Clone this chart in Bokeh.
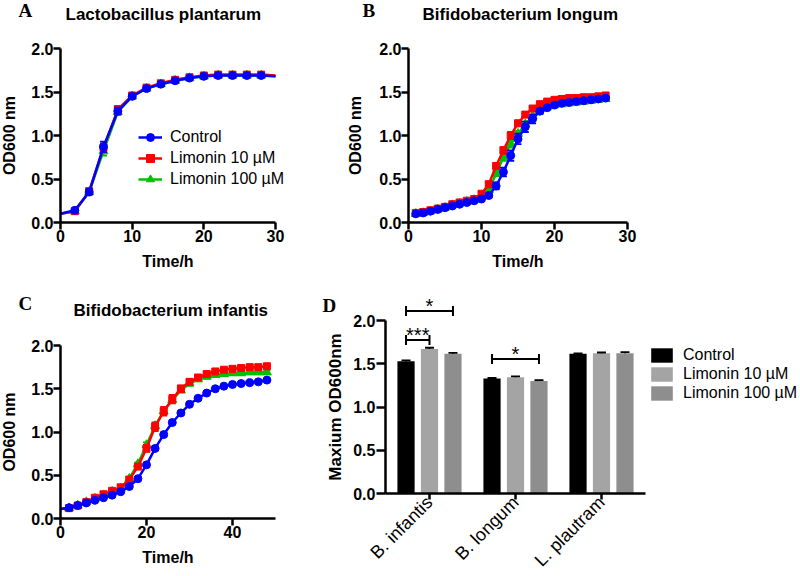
import math
from bokeh.plotting import figure
from bokeh.layouts import column, row
from bokeh.models import (Label, Legend, LegendItem, FixedTicker, Range1d,
                          PrintfTickFormatter)
from bokeh.embed import file_html
from bokeh.resources import INLINE
from bokeh.core.properties import value

# ---------------- data ----------------
# Panel A: Lactobacillus plantarum
time_a = [0, 2, 4, 6, 8, 10, 12, 14, 16, 18, 20, 22, 24, 26, 28, 30]
a_ctrl = [0.10, 0.14, 0.35, 0.87, 1.28, 1.45, 1.54, 1.59, 1.63, 1.66, 1.68, 1.69, 1.69, 1.69, 1.69, 1.68]
a_l10 = [0.10, 0.13, 0.36, 0.86, 1.30, 1.46, 1.55, 1.60, 1.64, 1.67, 1.69, 1.70, 1.70, 1.70, 1.70, 1.69]
a_l100 = [0.10, 0.13, 0.35, 0.82, 1.27, 1.45, 1.54, 1.59, 1.63, 1.66, 1.68, 1.69, 1.69, 1.69, 1.69, 1.68]
a_err_ctrl = [0, 0.01, 0.03, 0.06, 0.04, 0.02, 0.02, 0.01, 0.01, 0.01, 0.01, 0.01, 0.01, 0.01, 0.01, 0]
a_err_l10 = [0, 0.02, 0.03, 0.05, 0.04, 0.02, 0.02, 0.01, 0.01, 0.01, 0.01, 0.01, 0.01, 0.01, 0.01, 0]
a_err_l100 = [0, 0.01, 0.02, 0.05, 0.03, 0.02, 0.01, 0.01, 0.01, 0.01, 0.01, 0.01, 0.01, 0.01, 0.01, 0]

# Panel B: Bifidobacterium longum
time_b = list(range(1, 28))
b_ctrl = [0.10, 0.11, 0.13, 0.15, 0.17, 0.19, 0.21, 0.23, 0.25, 0.27, 0.31, 0.42, 0.58, 0.77,
          0.96, 1.10, 1.19, 1.28, 1.32, 1.35, 1.37, 1.38, 1.39, 1.40, 1.41, 1.42, 1.43]
b_l10 = [0.11, 0.12, 0.14, 0.16, 0.18, 0.21, 0.23, 0.25, 0.27, 0.33, 0.44, 0.65, 0.83, 1.00,
         1.14, 1.24, 1.31, 1.36, 1.39, 1.41, 1.42, 1.43, 1.43, 1.44, 1.44, 1.45, 1.46]
b_l100 = [0.10, 0.11, 0.13, 0.15, 0.17, 0.20, 0.22, 0.24, 0.26, 0.30, 0.37, 0.56, 0.75, 0.90,
          1.02, 1.13, 1.22, 1.30, 1.33, 1.35, 1.36, 1.37, 1.38, 1.39, 1.40, 1.41, 1.42]
b_err_ctrl = [0.01, 0.01, 0.01, 0.01, 0.01, 0.01, 0.01, 0.01, 0.01, 0.01, 0.02, 0.04, 0.05, 0.06,
              0.06, 0.06, 0.05, 0.03, 0.02, 0.02, 0.01, 0.01, 0.01, 0.01, 0.01, 0.01, 0.02]
b_err_l10 = [0.01, 0.01, 0.01, 0.01, 0.01, 0.01, 0.01, 0.01, 0.01, 0.02, 0.03, 0.03, 0.04, 0.04,
             0.03, 0.02, 0.02, 0.02, 0.01, 0.01, 0.01, 0.01, 0.01, 0.01, 0.01, 0.01, 0.01]
b_err_l100 = [0.01, 0.01, 0.01, 0.01, 0.01, 0.01, 0.01, 0.01, 0.01, 0.01, 0.02, 0.03, 0.04, 0.04,
              0.03, 0.03, 0.02, 0.02, 0.01, 0.01, 0.01, 0.01, 0.01, 0.01, 0.01, 0.01, 0.01]

# Panel C: Bifidobacterium infantis
time_c = [0, 2, 4, 6, 8, 10, 12, 14, 16, 18, 20, 22, 24, 26, 28, 30, 32, 34, 36, 38, 40, 42, 44, 46, 48]
c_ctrl = [0.11, 0.125, 0.15, 0.18, 0.21, 0.24, 0.27, 0.31, 0.37, 0.46, 0.62, 0.81, 0.97,
          1.11, 1.22, 1.32, 1.39, 1.45, 1.50, 1.53, 1.55, 1.56, 1.57, 1.58, 1.60]
c_l10 = [0.11, 0.12, 0.15, 0.19, 0.24, 0.28, 0.32, 0.36, 0.45, 0.60, 0.81, 1.06, 1.24,
         1.38, 1.50, 1.58, 1.63, 1.67, 1.70, 1.72, 1.73, 1.74, 1.75, 1.75, 1.76]
c_l100 = [0.11, 0.12, 0.15, 0.19, 0.23, 0.27, 0.31, 0.35, 0.46, 0.63, 0.85, 1.07, 1.24,
          1.37, 1.48, 1.56, 1.61, 1.64, 1.66, 1.67, 1.68, 1.68, 1.69, 1.69, 1.69]
c_err_ctrl = [0, 0.01, 0.01, 0.01, 0.01, 0.01, 0.01, 0.01, 0.01, 0.02, 0.02, 0.02, 0.02,
              0.02, 0.02, 0.02, 0.01, 0.01, 0.01, 0.01, 0.01, 0.01, 0.01, 0.01, 0.01]
c_err_l10 = [0, 0.01, 0.01, 0.01, 0.01, 0.02, 0.02, 0.02, 0.03, 0.03, 0.04, 0.05, 0.05,
             0.05, 0.04, 0.03, 0.02, 0.02, 0.02, 0.02, 0.02, 0.02, 0.02, 0.02, 0.02]
c_err_l100 = [0, 0.01, 0.01, 0.01, 0.01, 0.01, 0.01, 0.01, 0.02, 0.02, 0.03, 0.03, 0.03,
              0.03, 0.02, 0.02, 0.02, 0.02, 0.02, 0.02, 0.02, 0.02, 0.02, 0.02, 0.02]

# Panel D: maximum OD600
strains = ["B. infantis", "B. longum", "L. plautram"]
treatments = ["Control", "Limonin 10 µM", "Limonin 100 µM"]
bar_ctrl = [1.53, 1.33, 1.615]
bar_l10 = [1.67, 1.345, 1.62]
bar_l100 = [1.615, 1.30, 1.62]
bar_err_ctrl = [0.01, 0.005, 0.005]
bar_err_l10 = [0.015, 0.01, 0.01]
bar_err_l100 = [0.01, 0.01, 0.015]
sig_group = [0, 0, 1]
sig_from = [0, 0, 0]
sig_to = [2, 1, 2]
sig_level = [2.11, 1.775, 1.555]
sig_text = ["*", "***", "*"]

# ---------------- style ----------------
FONT = "Liberation Sans"
SERIF = "Liberation Serif"
BLUE, RED, GREEN = "#0000ff", "#ff0000", "#00c000"
BAR_COLORS = ["#000000", "#a4a4a4", "#8e8e8e"]
ROW_H = 288


def make_fig(w, x_anchor, y_anchor):
    """Figure whose frame fills it; x_anchor/y_anchor = ((value, pixel), (value, pixel)) in figure pixels
    (y pixels measured from the figure top)."""
    (xv0, xp0), (xv1, xp1) = x_anchor
    (yv0, yp0), (yv1, yp1) = y_anchor
    sx = (xp1 - xp0) / (xv1 - xv0)
    sy = (yp0 - yp1) / (yv1 - yv0)
    xr = (xv0 - xp0 / sx, xv0 + (w - xp0) / sx)
    yr = (yv0 - (ROW_H - yp0) / sy, yv0 + yp0 / sy)
    p = figure(width=w, height=ROW_H, x_range=Range1d(*xr), y_range=Range1d(*yr),
               output_backend="svg", toolbar_location=None, title=None,
               min_border_left=0, min_border_right=0, min_border_top=0, min_border_bottom=0)
    p.xgrid.visible = False
    p.ygrid.visible = False
    p.outline_line_color = None
    p.background_fill_color = "white"
    p.border_fill_color = "white"
    for ax in (p.xaxis, p.yaxis):
        ax.axis_line_width = 2.5
        ax.axis_line_color = "black"
        ax.major_tick_line_width = 2.5
        ax.major_tick_line_color = "black"
        ax.major_tick_out = 7
        ax.major_tick_in = 0
        ax.minor_tick_line_color = None
        ax.major_label_text_font = FONT
        ax.major_label_text_font_style = "bold"
        ax.major_label_text_font_size = "16px"
        ax.major_label_text_color = "black"
        ax.major_label_standoff = 0
        ax.axis_label_text_font = FONT
        ax.axis_label_text_font_style = "bold"
        ax.axis_label_text_font_size = "16px"
        ax.axis_label_text_color = "black"
    return p


def add_text(p, text, x, y, font, size):
    # x, y in figure pixels from the top-left corner
    p.add_layout(Label(x=x, y=ROW_H - y, x_units="screen", y_units="screen", text=text,
                       text_font=font, text_font_size=size, text_font_style="bold",
                       text_align="left", text_baseline="middle", text_color="black"))


def growth_panel(p, t, series, xticks, xbound, ylab_standoff):
    p.xaxis.ticker = FixedTicker(ticks=xticks)
    p.xaxis.bounds = (0, xbound)
    p.xaxis.fixed_location = 0
    p.yaxis.ticker = FixedTicker(ticks=[0, 0.5, 1.0, 1.5, 2.0])
    p.yaxis.bounds = (0, 2.0)
    p.yaxis.fixed_location = 0
    p.yaxis.formatter = PrintfTickFormatter(format="%.1f")
    p.xaxis.axis_label = "Time/h"
    p.yaxis.axis_label = "OD600 nm"
    p.xaxis.axis_label_standoff = 8
    p.yaxis.axis_label_standoff = ylab_standoff
    items = {}
    for name, vals, errs, color, marker, size, trim in series:
        ts = t[trim[0]:len(t) - trim[1]]
        vs = vals[trim[0]:len(vals) - trim[1]]
        es = errs[trim[0]:len(errs) - trim[1]]
        p.segment(x0=ts, y0=[v - e for v, e in zip(vs, es)], x1=ts,
                  y1=[v + e for v, e in zip(vs, es)], line_color=color, line_width=1.8)
        for sign in (-1, 1):
            p.scatter(ts, [v + sign * e for v, e in zip(vs, es)], marker="dash", size=7,
                      line_color=color, line_width=1.8)
        ln = p.line(t, vals, line_color=color, line_width=2.5)
        sc = p.scatter(ts, vs, marker=marker, size=size, fill_color=color, line_color=color)
        items[name] = [ln, sc]
    return items


def series_list(ctrl, l10, l100, ec, e10, e100, trim):
    # drawn back to front: green, red, blue
    return [("Limonin 100 µM", l100, e100, GREEN, "triangle", 9, trim),
            ("Limonin 10 µM", l10, e10, RED, "square", 7, trim),
            ("Control", ctrl, ec, BLUE, "circle", 8, trim)]


# ---- Panel A (figure at page x 0..300, y 0..288) ----
pa = make_fig(300, ((0, 60), (30, 275)), ((0, 222), (2.0, 48)))
items_a = growth_panel(pa, time_a, series_list(a_ctrl, a_l10, a_l100, a_err_ctrl, a_err_l10, a_err_l100, (1, 1)),
                       [0, 10, 20, 30], 30, 10)
add_text(pa, "Lactobacillus plantarum", 65, 14, FONT, "17px")
add_text(pa, "A", 18, 10, SERIF, "19px")
leg_a = Legend(items=[LegendItem(label=n, renderers=items_a[n]) for n in treatments],
               location=(138, ROW_H - 189), padding=0, margin=0, spacing=1, glyph_width=24, glyph_height=20,
               label_standoff=8, border_line_color=None, background_fill_alpha=0,
               label_text_font=FONT, label_text_font_size="16px", label_text_color="black")
pa.add_layout(leg_a)

# ---- Panel B (page x 300..800) ----
pb = make_fig(500, ((0, 108), (30, 327)), ((0, 222), (2.0, 48)))
growth_panel(pb, time_b, series_list(b_ctrl, b_l10, b_l100, b_err_ctrl, b_err_l10, b_err_l100, (0, 0)),
             [0, 10, 20, 30], 30, 12)
add_text(pb, "Bifidobacterium longum", 122, 14, FONT, "17px")
add_text(pb, "B", 62, 10, SERIF, "19px")

# ---- Panel C (page x 0..300, y 288..576) ----
pc = make_fig(300, ((0, 60), (50, 275)), ((0, 230), (2.0, 57)))
growth_panel(pc, time_c, series_list(c_ctrl, c_l10, c_l100, c_err_ctrl, c_err_l10, c_err_l100, (1, 0)),
             [0, 20, 40], 50, 10)
add_text(pc, "Bifidobacterium infantis", 73, 22, FONT, "17px")
add_text(pc, "C", 18, 15, SERIF, "19px")

# ---- Panel D (page x 300..800, y 288..576) ----
pd_ = make_fig(500, ((0, 129), (1, 215)), ((0, 205), (2.0, 32)))
pd_.xaxis.bounds = (-0.512, 2.512)
pd_.xaxis.fixed_location = 0
pd_.yaxis.bounds = (0, 2.0)
pd_.yaxis.fixed_location = -0.512
pd_.yaxis.ticker = FixedTicker(ticks=[0, 0.5, 1.0, 1.5, 2.0])
pd_.yaxis.formatter = PrintfTickFormatter(format="%.1f")
pd_.yaxis.major_tick_out = 9
pd_.yaxis.major_label_standoff = 1
pd_.yaxis.axis_label = "Maxium OD600nm"
pd_.yaxis.axis_label_text_font_size = "17px"
pd_.yaxis.axis_label_standoff = 5
pd_.xaxis.ticker = FixedTicker(ticks=list(range(len(strains))))
pd_.xaxis.major_label_overrides = {i: s for i, s in enumerate(strains)}
pd_.xaxis.major_label_orientation = math.pi / 4
pd_.xaxis.major_label_text_font_style = "normal"
pd_.xaxis.major_label_text_font_size = "18px"
pd_.xaxis.major_tick_out = 6

offsets = [-0.273, 0.0, 0.273]
bar_sets = [(bar_ctrl, bar_err_ctrl), (bar_l10, bar_err_l10), (bar_l100, bar_err_l100)]
bar_renderers = []
groups = list(range(len(strains)))
for k, (vals, errs) in enumerate(bar_sets):
    xs = [g + offsets[k] for g in groups]
    r = pd_.vbar(x=xs, top=vals, width=0.2, fill_color=BAR_COLORS[k], line_color=None)
    bar_renderers.append(r)
    pd_.segment(x0=xs, y0=vals, x1=xs, y1=[v + e for v, e in zip(vals, errs)],
                line_color="black", line_width=1.8)
    pd_.scatter(xs, [v + e for v, e in zip(vals, errs)], marker="dash", size=9,
                line_color="black", line_width=1.8)

for g, a, b, lvl, txt in zip(sig_group, sig_from, sig_to, sig_level, sig_text):
    x0 = g + offsets[a]
    x1 = g + offsets[b]
    pd_.segment(x0=[x0], y0=[lvl], x1=[x1], y1=[lvl], line_color="black", line_width=2)
    pd_.segment(x0=[x0, x1], y0=[lvl - 0.058, lvl - 0.058], x1=[x0, x1], y1=[lvl + 0.058, lvl + 0.058],
                line_color="black", line_width=2)
    pd_.text(x=[(x0 + x1) / 2], y=[lvl + 0.06], text=[txt], text_align="center", text_baseline="alphabetic",
             text_font=value(FONT), text_font_size="20px", text_color="black")

leg_d = Legend(items=[LegendItem(label=n, renderers=[r]) for n, r in zip(treatments, bar_renderers)],
               location=(348, ROW_H - 114), padding=0, margin=0, spacing=1, glyph_width=27, glyph_height=18,
               label_standoff=8, border_line_color=None, background_fill_alpha=0,
               label_text_font=FONT, label_text_font_size="16px", label_text_color="black")
pd_.add_layout(leg_d)
add_text(pd_, "D", 22, 16.5, SERIF, "19px")

layout = column(row(pa, pb, spacing=0), row(pc, pd_, spacing=0), spacing=0)
open("out.html", "w").write(file_html(layout, INLINE))
